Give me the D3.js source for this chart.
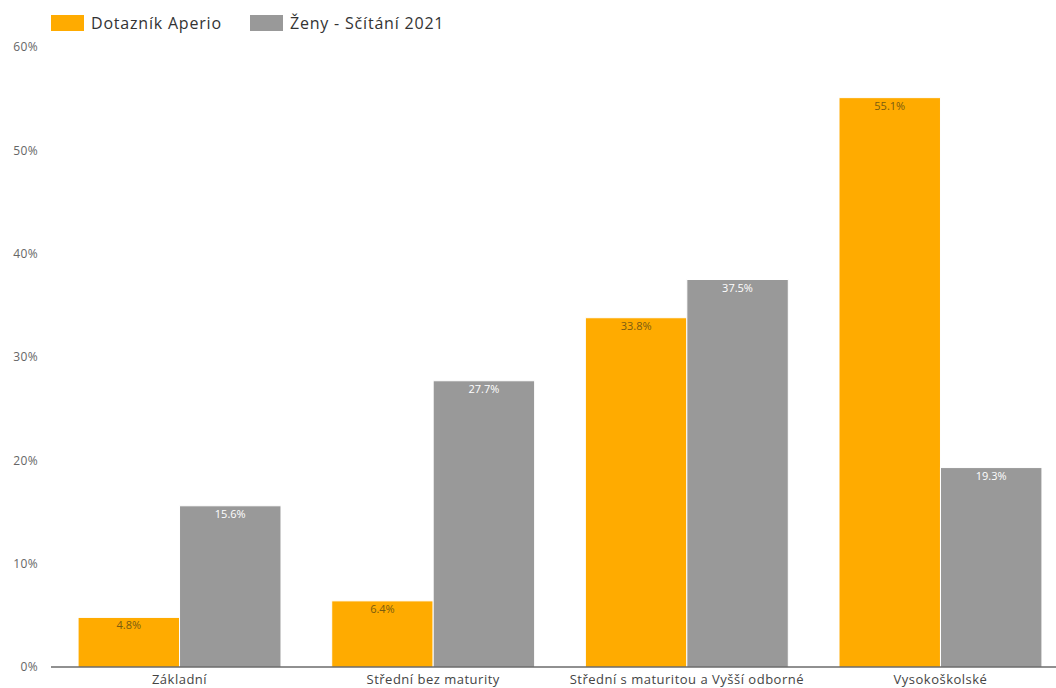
<!DOCTYPE html>
<html>
<head>
<meta charset="utf-8">
<script src="https://cdn.jsdelivr.net/npm/d3@7"></script>
<style>
  html, body { margin: 0; padding: 0; background: #fff; }
  svg { display: block; font-family: "Open Sans", "Noto Sans", sans-serif; }
</style>
</head>
<body>
<svg id="chart" width="1056" height="688"></svg>
<script>
// Education level shares: survey respondents vs. women in the 2021 census
const categories = ["Základní", "Střední bez maturity", "Střední s maturitou a Vyšší odborné", "Vysokoškolské"];
const seriesNames = ["Dotazník Aperio", "Ženy - Sčítání 2021"];
const aperioValues = [4.8, 6.4, 33.8, 55.1];
const censusValues = [15.6, 27.7, 37.5, 19.3];
const yTicks = [0, 10, 20, 30, 40, 50, 60];

const colors = ["#FFAB00", "#999999"];
const labelColors = ["#7a5c10", "#ffffff"];

const svg = d3.select("#chart");

const x0 = d3.scaleBand()
  .domain(categories)
  .range([52.7, 1067.3])
  .paddingInner(0.2)
  .paddingOuter(0.1);

const x1 = d3.scaleBand()
  .domain(seriesNames)
  .range([0, x0.bandwidth()])
  .padding(0);

const y = d3.scaleLinear().domain([0, 60]).range([667, 47]);

// y-axis tick labels (no axis line)
const yAxis = d3.axisLeft(y)
  .tickValues(yTicks)
  .tickFormat(d => d + "%")
  .tickSize(0)
  .tickPadding(0);
const yg = svg.append("g").attr("transform", "translate(38,0)").call(yAxis);
yg.select(".domain").remove();
yg.selectAll("text").attr("fill", "#666").style("font-size", "12px")
  .style("letter-spacing", "0.4px")
  .style("font-family", "'Open Sans', sans-serif");

// grouped bars
const rows = categories.map((c, i) => ({
  category: c,
  values: [
    { series: seriesNames[0], value: aperioValues[i], idx: 0 },
    { series: seriesNames[1], value: censusValues[i], idx: 1 }
  ]
}));

const groups = svg.append("g").selectAll("g")
  .data(rows)
  .join("g")
  .attr("transform", d => `translate(${x0(d.category)},0)`);

groups.selectAll("rect")
  .data(d => d.values)
  .join("rect")
  .attr("x", d => x1(d.series))
  .attr("y", d => y(d.value))
  .attr("width", x1.bandwidth())
  .attr("height", d => y(0) - y(d.value))
  .attr("fill", d => colors[d.idx])
  .attr("stroke", "#fff")
  .attr("stroke-width", 1);

groups.selectAll("text.val")
  .data(d => d.values)
  .join("text")
  .attr("class", "val")
  .attr("x", d => x1(d.series) + x1.bandwidth() / 2)
  .attr("y", d => y(d.value) + 12)
  .attr("text-anchor", "middle")
  .attr("fill", d => labelColors[d.idx])
  .style("font-size", "11px")
  .text(d => d.value.toFixed(1) + "%");

// x-axis baseline and category labels
const xAxis = d3.axisBottom(x0).tickSize(0).tickPadding(8);
const xg = svg.append("g").attr("transform", `translate(0,${y(0)})`).call(xAxis);
xg.select(".domain").remove();
xg.selectAll("text").attr("fill", "#444").style("font-size", "13px")
  .style("letter-spacing", "0.5px")
  .style("font-family", "'Open Sans', sans-serif");
svg.append("line")
  .attr("x1", 51).attr("x2", 1056)
  .attr("y1", y(0)).attr("y2", y(0))
  .attr("stroke", "#222").attr("stroke-width", 1.2);

// legend
const legendX = [51, 250];
const legend = svg.append("g").selectAll("g")
  .data(seriesNames)
  .join("g")
  .attr("transform", (d, i) => `translate(${legendX[i]},15)`);
legend.append("rect")
  .attr("width", 33).attr("height", 16)
  .attr("fill", (d, i) => colors[i]);
legend.append("text")
  .attr("x", 40).attr("y", 14)
  .attr("fill", "#333")
  .style("font-size", "16px")
  .style("letter-spacing", "0.8px")
  .text(d => d);
</script>
</body>
</html>
